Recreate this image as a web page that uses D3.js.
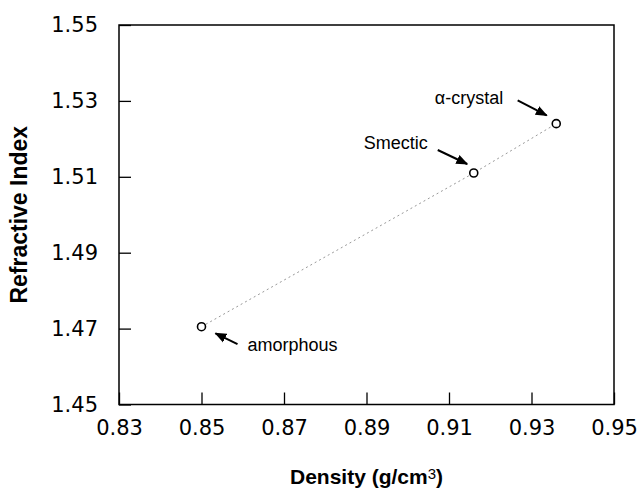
<!DOCTYPE html>
<html>
<head>
<meta charset="utf-8">
<script src="https://cdn.jsdelivr.net/npm/d3@7"></script>
<style>
  html, body { margin: 0; padding: 0; background: #fff; }
  svg { display: block; font-family: "Liberation Sans", Arial, Helvetica, sans-serif; }
</style>
</head>
<body>
<svg id="chart" width="644" height="492"></svg>
<script>
// ---- data ----
const phases = ["amorphous", "Smectic", "α-crystal"];
const densities = [0.850, 0.916, 0.936];
const refractiveIndex = [1.4705, 1.511, 1.524];
const xTicks = [0.83, 0.85, 0.87, 0.89, 0.91, 0.93, 0.95];
const yTicks = [1.45, 1.47, 1.49, 1.51, 1.53, 1.55];
const xTitle = "Density (g/cm";
const yTitle = "Refractive Index";

// ---- layout ----
const svg = d3.select("#chart");
const pL = 119, pR = 614, pT = 25, pB = 404.5;
const x = d3.scaleLinear().domain([0.83, 0.95]).range([pL, pR]);
const y = d3.scaleLinear().domain([1.45, 1.55]).range([pB, pT]);

const defs = svg.append("defs");
defs.append("marker")
  .attr("id", "ah").attr("viewBox", "0 0 10 10")
  .attr("refX", 9).attr("refY", 5)
  .attr("markerWidth", 6).attr("markerHeight", 6)
  .attr("markerUnits", "strokeWidth")
  .attr("orient", "auto")
  .append("path").attr("d", "M0,1 L10,5 L0,9 Z").attr("fill", "#000");

// axes (ticks pointing inward)
const xAxis = d3.axisBottom(x).tickValues(xTicks).tickFormat(d3.format(".2f"))
  .tickSizeInner(-12).tickSizeOuter(0).tickPadding(16);
const yAxis = d3.axisLeft(y).tickValues(yTicks).tickFormat(d3.format(".2f"))
  .tickSizeInner(-12).tickSizeOuter(0).tickPadding(21);

const gx = svg.append("g").attr("transform", `translate(0,${pB})`).call(xAxis);
const gy = svg.append("g").attr("transform", `translate(${pL},0)`).call(yAxis);
[gx, gy].forEach(g => {
  g.select(".domain").remove();
  g.selectAll(".tick line").attr("stroke", "#000").attr("stroke-width", 1.3);
  g.selectAll(".tick text").attr("fill", "#000").attr("font-size", 21)
    .attr("font-family", "'DejaVu Sans', Verdana, sans-serif");
});

// frame
svg.append("rect")
  .attr("x", pL).attr("y", pT)
  .attr("width", pR - pL).attr("height", pB - pT)
  .attr("fill", "none").attr("stroke", "#000").attr("stroke-width", 1.5);

// dotted connecting line
const pts = densities.map((d, i) => [d, refractiveIndex[i]]);
svg.append("path")
  .datum(pts)
  .attr("d", d3.line().x(d => x(d[0])).y(d => y(d[1])))
  .attr("fill", "none").attr("stroke", "#999")
  .attr("stroke-width", 1).attr("stroke-dasharray", "2,3");

// points
svg.selectAll("circle.pt").data(pts).join("circle")
  .attr("class", "pt")
  .attr("cx", d => x(d[0])).attr("cy", d => y(d[1]))
  .attr("r", 4).attr("fill", "#fff").attr("stroke", "#000").attr("stroke-width", 1.6);

// annotations (pixel offsets relative to each point)
const ann = [
  { head: [14, 6.6], tail: [36, 17.5], text: [46, 24.5], anchor: "start" },
  { head: [-6.6, -9], tail: [-36, -23], text: [-46, -24], anchor: "end" },
  { head: [-9.6, -8.3], tail: [-38.6, -23.3], text: [-53, -20], anchor: "end" }
];
pts.forEach((p, i) => {
  const px = x(p[0]), py = y(p[1]), a = ann[i];
  svg.append("line")
    .attr("x1", px + a.tail[0]).attr("y1", py + a.tail[1])
    .attr("x2", px + a.head[0]).attr("y2", py + a.head[1])
    .attr("stroke", "#000").attr("stroke-width", 2)
    .attr("marker-end", "url(#ah)");
  svg.append("text")
    .attr("x", px + a.text[0]).attr("y", py + a.text[1])
    .attr("text-anchor", a.anchor)
    .attr("font-size", 18).attr("fill", "#000")
    .text(phases[i]);
});

// axis titles
const xt = svg.append("text")
  .attr("x", (pL + pR) / 2).attr("y", 484)
  .attr("text-anchor", "middle").attr("font-size", 21).attr("font-weight", "bold")
  .attr("fill", "#000");
xt.append("tspan").text(xTitle);
xt.append("tspan").attr("font-size", 15).attr("font-weight", "normal").attr("dy", -5).text("3");
xt.append("tspan").attr("dy", 5).text(")");

svg.append("text")
  .attr("transform", `translate(27,${(pT + pB) / 2}) rotate(-90)`)
  .attr("text-anchor", "middle").attr("font-size", 23).attr("font-weight", "bold")
  .attr("fill", "#000")
  .text(yTitle);
</script>
</body>
</html>
